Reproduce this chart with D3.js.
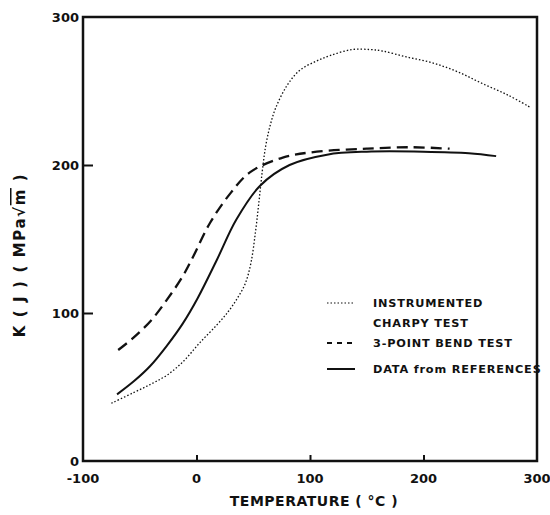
<!DOCTYPE html>
<html><head><meta charset="utf-8">
<script src="https://cdn.jsdelivr.net/npm/d3@7"></script>
<style>body{margin:0;background:#fff}svg{display:block}text{font-family:"DejaVu Sans",sans-serif;font-weight:bold;fill:#111}</style>
</head><body><svg id="c" width="550" height="515"></svg>
<script>
const xTicks=[-100,0,100,200,300];
const yTicks=[0,100,200,300];
const charpy=[[-75,39],[-56,46],[-40,52],[-26,58],[-12,67],[3,80],[18,92],[28,101],[36,110],[43,120],[48,134],[52,155],[55,175],[58,196],[61,213],[65,227],[70,239],[80,254],[91,264],[105,270],[118,274],[137,278],[153,278],[164,277],[185,273],[208,269],[230,263],[252,255],[275,247],[294,239]];
const bend=[[-69,75],[-56,83],[-40,95],[-26,109],[-12,125],[-3,138],[12,161],[30,181],[47,195],[76,205],[106,209],[150,211],[190,212],[223,211]];
const refs=[[-70,45],[-55,54],[-41,64],[-26,78],[-12,93],[1,110],[18,136],[35,163],[56,186],[82,200],[115,207],[150,209],[200,209],[240,208],[264,206]];
const legendLabels=[["INSTRUMENTED","CHARPY TEST"],["3-POINT BEND TEST"],["DATA from REFERENCES"]];

const svg=d3.select("#c");
const x=d3.scaleLinear().domain([-100,300]).range([83,537]);
const y=d3.scaleLinear().domain([0,300]).range([461,17]);

svg.append("path").attr("d",`M${x(-100)},${y(300)}H${x(300)}V${y(0)}H${x(-100)}Z`)
  .attr("fill","none").attr("stroke","#111").attr("stroke-width",2.5);

svg.append("g").attr("transform",`translate(0,${y(0)})`)
  .call(d3.axisTop(x).tickValues([0,100,200]).tickSize(6).tickFormat(""))
  .call(g=>{g.select(".domain").remove();g.selectAll("line").attr("stroke","#111").attr("stroke-width",2);});
svg.append("g").attr("transform",`translate(${x(-100)},0)`)
  .call(d3.axisRight(y).tickValues([100,200]).tickSize(10).tickFormat(""))
  .call(g=>{g.select(".domain").remove();g.selectAll("line").attr("stroke","#111").attr("stroke-width",2);});

svg.selectAll(".xl").data(xTicks).enter().append("text")
  .attr("x",d=>x(d)).attr("y",483).attr("text-anchor","middle").attr("font-size",13).text(d=>d);
svg.selectAll(".yl").data(yTicks).enter().append("text")
  .attr("x",79).attr("y",d=>y(d)+5).attr("text-anchor","end").attr("font-size",13).text(d=>d);

svg.append("text").attr("x",314).attr("y",506).attr("text-anchor","middle").attr("font-size",14)
  .attr("letter-spacing",0.5).style("font-weight","600").text("TEMPERATURE ( °C )");
const yt=svg.append("text").attr("transform","translate(25,255) rotate(-90)").attr("text-anchor","middle").attr("font-size",15).attr("letter-spacing",1.6);
yt.append("tspan").text("K ( J )  ( MPa√");
yt.append("tspan").attr("text-decoration","overline").text("m");
yt.append("tspan").text(" )");

const line=d3.line().x(d=>x(d[0])).y(d=>y(d[1])).curve(d3.curveCatmullRom);
svg.append("path").attr("d",line(charpy)).attr("fill","none").attr("stroke","#111").attr("stroke-width",1.3).attr("stroke-dasharray","1.5,2");
svg.append("path").attr("d",line(bend)).attr("fill","none").attr("stroke","#111").attr("stroke-width",2.3).attr("stroke-dasharray","11,6");
svg.append("path").attr("d",line(refs)).attr("fill","none").attr("stroke","#111").attr("stroke-width",2);

const lg=svg.append("g");
lg.append("line").attr("x1",327).attr("x2",355).attr("y1",303).attr("y2",303).attr("stroke","#111").attr("stroke-width",1.2).attr("stroke-dasharray","1.5,2");
lg.append("line").attr("x1",327).attr("x2",355).attr("y1",343).attr("y2",343).attr("stroke","#111").attr("stroke-width",2).attr("stroke-dasharray","5,5");
lg.append("line").attr("x1",327).attr("x2",355).attr("y1",369).attr("y2",369).attr("stroke","#111").attr("stroke-width",2);
const ys=[[307,327],[347],[373]];
legendLabels.forEach((ls,i)=>ls.forEach((t,j)=>lg.append("text").attr("x",373).attr("y",ys[i][j]).attr("font-size",11.3).attr("letter-spacing",0.8).text(t)));
</script></body></html>
